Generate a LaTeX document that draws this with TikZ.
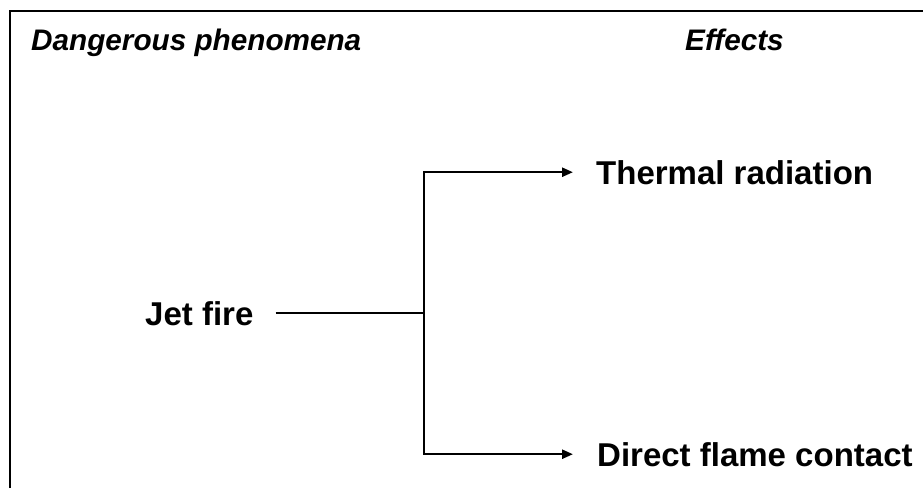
\documentclass[tikz,border=0pt]{standalone}
\usepackage{fontspec}
\setmainfont{Liberation Sans}
\usetikzlibrary{arrows.meta}
\tikzset{
  head/.style={font=\fontsize{29.7}{32}\selectfont\bfseries\itshape, inner sep=0pt, anchor=base west},
  lbl/.style={font=\fontsize{33}{36}\selectfont\bfseries, inner sep=0pt, anchor=base west},
  conn/.style={line width=2.4pt, line join=miter},
  arr/.style={conn, -{Triangle[length=11pt,width=9pt]}}
}
\begin{document}
\begin{tikzpicture}[x=1pt,y=-1pt]
\useasboundingbox (0,0) rectangle (923,488);
\draw[line width=2.6pt] (10,488) -- (10,11) -- (923,11);
\node[head] (hd1) at (31,50) {Dangerous phenomena};
\node[head] (hd2) at (685,50) {Effects};
\node[lbl] (jet) at (145,325) {Jet fire};
\node[lbl] (thermal) at (596,184) {Thermal radiation};
\node[lbl] (direct) at (597,466) {Direct flame contact};
\coordinate (j) at (424,313);
\draw[conn, shorten <=22pt] (j -| jet.east) -- (j);
\draw[arr, shorten >=23pt] (j) |- (thermal.west);
\draw[arr, shorten >=24pt] (j) |- (direct.west);
\end{tikzpicture}
\end{document}
